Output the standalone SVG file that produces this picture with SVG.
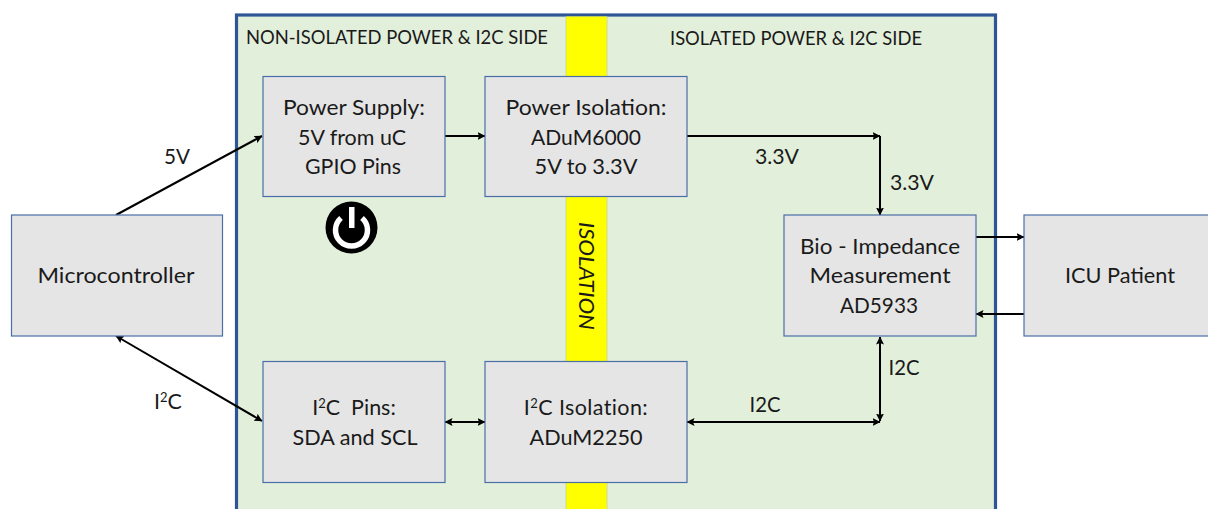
<svg xmlns="http://www.w3.org/2000/svg" width="1208" height="509" viewBox="0 0 1208 509">
<style>
.box{fill:#e5e5e5;stroke:#4a6fa8;stroke-width:1.2}
text{font-family:"Lato","Open Sans",sans-serif;font-size:21.5px;fill:#1a1a1a;text-anchor:middle}
.hdr{font-size:18.5px}
.c{fill:none;stroke:#000;stroke-width:2}
.sup{font-size:13px}
</style>
<defs>
<marker id="a" viewBox="0 0 8 8" refX="7.5" refY="4" markerWidth="8" markerHeight="8" markerUnits="userSpaceOnUse" orient="auto-start-reverse"><path d="M0 0L8 4L0 8L1.5 4Z" fill="#000"/></marker>
</defs>
<rect width="1208" height="509" fill="#fff"/>
<g id="panel">
<rect x="236.500" y="15" width="759" height="500" fill="#e2efda" stroke="#2f5597" stroke-width="3.200"/>
<rect x="566" y="16.500" width="41" height="492.500" fill="#ffff00"/>
<path d="M566 16.500V509M607 16.500V509" stroke="#b5c8a5" stroke-width="0.6" fill="none"/>
<text class="hdr" x="397" y="44" textLength="302" lengthAdjust="spacingAndGlyphs">NON-ISOLATED POWER &amp; I2C SIDE</text>
<text class="hdr" x="796" y="45" textLength="252" lengthAdjust="spacingAndGlyphs">ISOLATED POWER &amp; I2C SIDE</text>
<text transform="translate(586 276) rotate(90)" y="7" style="font-size:20.500px;font-style:italic" textLength="108" lengthAdjust="spacingAndGlyphs">ISOLATION</text>
</g>
<g id="connectors">
<path class="c" d="M116 215L262 136" marker-end="url(#a)"/>
<path class="c" d="M445 136H485" marker-end="url(#a)"/>
<path class="c" d="M687 136H880" marker-end="url(#a)"/>
<path class="c" d="M880 136V215" marker-end="url(#a)"/>
<path class="c" d="M976 237H1024" marker-end="url(#a)"/>
<path class="c" d="M1024 314H976" marker-end="url(#a)"/>
<path class="c" d="M880 337V421" marker-start="url(#a)" marker-end="url(#a)"/>
<path class="c" d="M687 422H880" marker-start="url(#a)" marker-end="url(#a)"/>
<path class="c" d="M445 422H485" marker-start="url(#a)" marker-end="url(#a)"/>
<path class="c" d="M116 336L262 421" marker-start="url(#a)" marker-end="url(#a)"/>
</g>
<g id="microcontroller"><rect class="box" x="11.500" y="215" width="211" height="121"/><text x="116" y="283" textLength="157" lengthAdjust="spacingAndGlyphs">Microcontroller</text></g>
<g id="power-supply"><rect class="box" x="263" y="76.500" width="182" height="120"/>
<text x="354" y="115" textLength="142" lengthAdjust="spacingAndGlyphs">Power Supply:</text><text x="352" y="145" textLength="108" lengthAdjust="spacingAndGlyphs">5V from uC</text><text x="353" y="174" textLength="96" lengthAdjust="spacingAndGlyphs">GPIO Pins</text></g>
<g id="power-isolation"><rect class="box" x="485" y="76.500" width="202" height="120"/>
<text x="586" y="115" textLength="161" lengthAdjust="spacingAndGlyphs">Power Isolation:</text><text x="586" y="145" textLength="110" lengthAdjust="spacingAndGlyphs">ADuM6000</text><text x="586" y="174" textLength="103" lengthAdjust="spacingAndGlyphs">5V to 3.3V</text></g>
<g id="i2c-pins"><rect class="box" x="263" y="361.500" width="182" height="121"/>
<text x="354" y="415" xml:space="preserve">I<tspan class="sup" dy="-7">2</tspan><tspan dy="7">C  Pins:</tspan></text><text x="355" y="445" textLength="125" lengthAdjust="spacingAndGlyphs">SDA and SCL</text></g>
<g id="i2c-isolation"><rect class="box" x="485" y="361.500" width="202" height="121"/>
<text x="586" y="415" letter-spacing="0.4">I<tspan class="sup" dy="-7">2</tspan><tspan dy="7">C Isolation:</tspan></text><text x="586" y="445" textLength="113" lengthAdjust="spacingAndGlyphs">ADuM2250</text></g>
<g id="bio-impedance"><rect class="box" x="784" y="215" width="192" height="121"/>
<text x="880" y="254" textLength="160" lengthAdjust="spacingAndGlyphs">Bio - Impedance</text><text x="880" y="283" textLength="141" lengthAdjust="spacingAndGlyphs">Measurement</text><text x="879" y="313" textLength="78" lengthAdjust="spacingAndGlyphs">AD5933</text></g>
<g id="icu-patient"><rect class="box" x="1024" y="215" width="190" height="121"/><text x="1120" y="283" textLength="110" lengthAdjust="spacingAndGlyphs">ICU Patient</text></g>
<g id="power-icon">
<circle cx="351.500" cy="227.500" r="26" fill="#000"/>
<path d="M341 218A16 16 0 1 0 362 218" fill="none" stroke="#fff" stroke-width="5.500"/>
<rect x="349" y="207" width="5.500" height="21" fill="#fff"/>
</g>
<g id="labels">
<text x="177" y="164" textLength="26" lengthAdjust="spacingAndGlyphs">5V</text>
<text x="168" y="409">I<tspan class="sup" dy="-7">2</tspan><tspan dy="7">C</tspan></text>
<text x="777" y="164" textLength="44" lengthAdjust="spacingAndGlyphs">3.3V</text>
<text x="912" y="190" textLength="44" lengthAdjust="spacingAndGlyphs">3.3V</text>
<text x="904" y="375" textLength="31" lengthAdjust="spacingAndGlyphs">I2C</text>
<text x="765" y="412" textLength="31" lengthAdjust="spacingAndGlyphs">I2C</text>
</g>
</svg>
